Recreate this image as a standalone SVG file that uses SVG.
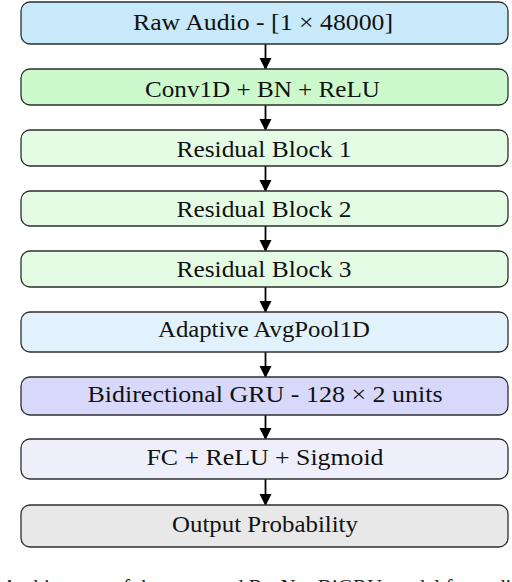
<svg xmlns="http://www.w3.org/2000/svg" width="512" height="582" viewBox="0 0 512 582">
<style>
  .box { stroke: #2e2e2e; stroke-width: 1.3; }
  .lbl { font-family: 'Liberation Serif', Tinos, 'Times New Roman', Times, serif; font-size: 23px; fill: #111; text-anchor: middle; }
  .cap { font-family: 'Liberation Serif', Tinos, 'Times New Roman', Times, serif; font-size: 22px; fill: #222; }
  .conn { stroke: #000; stroke-width: 1.8; fill: none; }
</style>
<defs>
  <marker id="ah" markerUnits="userSpaceOnUse" markerWidth="12" markerHeight="15" refX="11" refY="6" orient="auto" viewBox="0 0 12 12">
    <path d="M0,0 L12,6 L0,12 Z" fill="#000"/>
  </marker>
</defs>
<rect width="512" height="582" fill="#fff"/>

<g id="connectors">
  <line class="conn" x1="265.5" y1="44" x2="265.5" y2="69" marker-end="url(#ah)"/>
  <line class="conn" x1="265.5" y1="105" x2="265.5" y2="130" marker-end="url(#ah)"/>
  <line class="conn" x1="265.5" y1="166" x2="265.5" y2="191" marker-end="url(#ah)"/>
  <line class="conn" x1="265.5" y1="226" x2="265.5" y2="251" marker-end="url(#ah)"/>
  <line class="conn" x1="265.5" y1="287" x2="265.5" y2="312" marker-end="url(#ah)"/>
  <line class="conn" x1="265.5" y1="352" x2="265.5" y2="377" marker-end="url(#ah)"/>
  <line class="conn" x1="265.5" y1="415" x2="265.5" y2="439" marker-end="url(#ah)"/>
  <line class="conn" x1="265.5" y1="479" x2="265.5" y2="505" marker-end="url(#ah)"/>
</g>

<g id="raw-audio">
  <rect class="box" x="21" y="2" width="487" height="42" rx="9" fill="#c7e9fa"/>
  <text class="lbl" font-family="Liberation Serif" x="263" y="30" textLength="260" lengthAdjust="spacingAndGlyphs">Raw Audio - [1 × 48000]</text>
</g>
<g id="conv1d">
  <rect class="box" x="21" y="69" width="487" height="36" rx="9" fill="#cdfacd"/>
  <text class="lbl" x="262.5" y="96.5" textLength="235" lengthAdjust="spacingAndGlyphs">Conv1D + BN + ReLU</text>
</g>
<g id="res1">
  <rect class="box" x="21" y="130" width="487" height="36" rx="9" fill="#e3fce3"/>
  <text class="lbl" x="264" y="157" textLength="175" lengthAdjust="spacingAndGlyphs">Residual Block 1</text>
</g>
<g id="res2">
  <rect class="box" x="21" y="191" width="487" height="35" rx="9" fill="#e3fce3"/>
  <text class="lbl" x="264" y="216.7" textLength="175" lengthAdjust="spacingAndGlyphs">Residual Block 2</text>
</g>
<g id="res3">
  <rect class="box" x="21" y="251" width="487" height="36" rx="9" fill="#e3fce3"/>
  <text class="lbl" x="264" y="276.7" textLength="175" lengthAdjust="spacingAndGlyphs">Residual Block 3</text>
</g>
<g id="avgpool">
  <rect class="box" x="21" y="312" width="487" height="40" rx="9" fill="#e1f2fc"/>
  <text class="lbl" x="264" y="336.7" textLength="212" lengthAdjust="spacingAndGlyphs">Adaptive AvgPool1D</text>
</g>
<g id="bigru">
  <rect class="box" x="21" y="377" width="487" height="38" rx="9" fill="#d8d8fa"/>
  <text class="lbl" x="265" y="401.7" textLength="355" lengthAdjust="spacingAndGlyphs">Bidirectional GRU - 128 × 2 units</text>
</g>
<g id="fc">
  <rect class="box" x="21" y="439" width="487" height="40" rx="9" fill="#efeffc"/>
  <text class="lbl" x="265" y="465" textLength="237" lengthAdjust="spacingAndGlyphs">FC + ReLU + Sigmoid</text>
</g>
<g id="output">
  <rect class="box" x="21" y="505" width="487" height="42" rx="9" fill="#e8e8e8"/>
  <text class="lbl" x="265" y="531.7" textLength="186" lengthAdjust="spacingAndGlyphs">Output Probability</text>
</g>

<text class="cap" x="2" y="594" textLength="520" lengthAdjust="spacingAndGlyphs">Architecture of the proposed ResNet-BiGRU model for audio</text>
</svg>
